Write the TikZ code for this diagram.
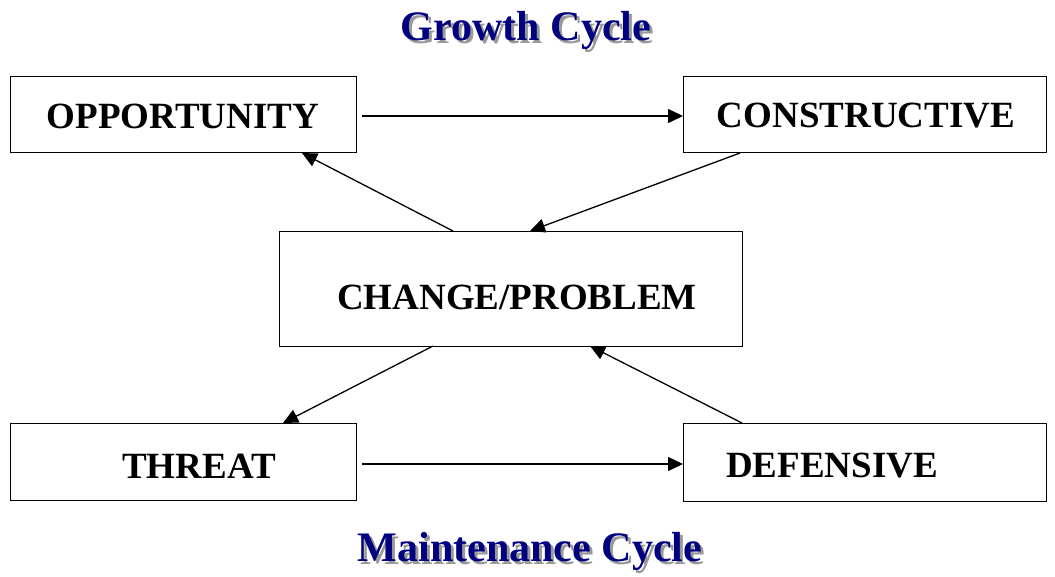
\documentclass[tikz,border=0pt]{standalone}
\usepackage{fontspec}
\setmainfont{Liberation Serif}
\usetikzlibrary{arrows.meta}
\begin{document}
\begin{tikzpicture}[x=1pt,y=-1pt,
  box/.style={draw=black,line width=1.4pt,minimum height=76pt,inner sep=0pt,font=\fontsize{37}{42}\selectfont\bfseries},
  lbl/.style={font=\fontsize{37}{42}\selectfont\bfseries},
  conn/.style={line width=1.3pt,-{Triangle[length=15pt,width=14pt]}},
  ttl/.style={font=\fontsize{42}{48}\selectfont\bfseries,text=navy},
  ttlsh/.style={font=\fontsize{42}{48}\selectfont\bfseries,text=black!40}]
\definecolor{navy}{RGB}{0,0,128}
\useasboundingbox (0,0) rectangle (1055,576);
\node[box,minimum width=346pt,anchor=north west] (opp) at (10,76) {};
\node[lbl] (oppt) at (183,116) {OPPORTUNITY};
\node[box,minimum width=363pt,anchor=north west] (con) at (683,76) {};
\node[lbl] (cont) at (866,116) {CONSTRUCTIVE};
\node[box,minimum width=463pt,minimum height=115pt,anchor=north west] (chg) at (279,231) {};
\node[lbl] (chgt) at (517,297) {CHANGE/PROBLEM};
\node[box,minimum width=346pt,minimum height=77pt,anchor=north west] (thr) at (10,423) {};
\node[lbl] (thrt) at (199,466) {THREAT};
\node[box,minimum width=363pt,minimum height=78pt,anchor=north west] (def) at (683,423) {};
\node[lbl] (deft) at (832,466) {DEFENSIVE};
\coordinate (a1) at (362,116);
\coordinate (a2) at (683,116);
\coordinate (b1) at (740,153);
\coordinate (b2) at (530,231);
\coordinate (c1) at (453,231);
\coordinate (c2) at (302,153);
\coordinate (d1) at (433,346);
\coordinate (d2) at (283,423);
\coordinate (e1) at (742,423);
\coordinate (e2) at (590,346);
\coordinate (f1) at (362,464);
\coordinate (f2) at (683,464);
\draw[conn] (a1) -- (a2);
\draw[conn] (b1) -- (b2);
\draw[conn] (c1) -- (c2);
\draw[conn] (d1) -- (d2);
\draw[conn] (e1) -- (e2);
\draw[conn] (f1) -- (f2);
\node[ttlsh] (gs) at (529,33) {Growth Cycle};
\node[ttl] (g) at (526,30) {Growth Cycle};
\node[ttlsh] (ms) at (533,554) {Maintenance Cycle};
\node[ttl] (m) at (530,551) {Maintenance Cycle};
\end{tikzpicture}
\end{document}
